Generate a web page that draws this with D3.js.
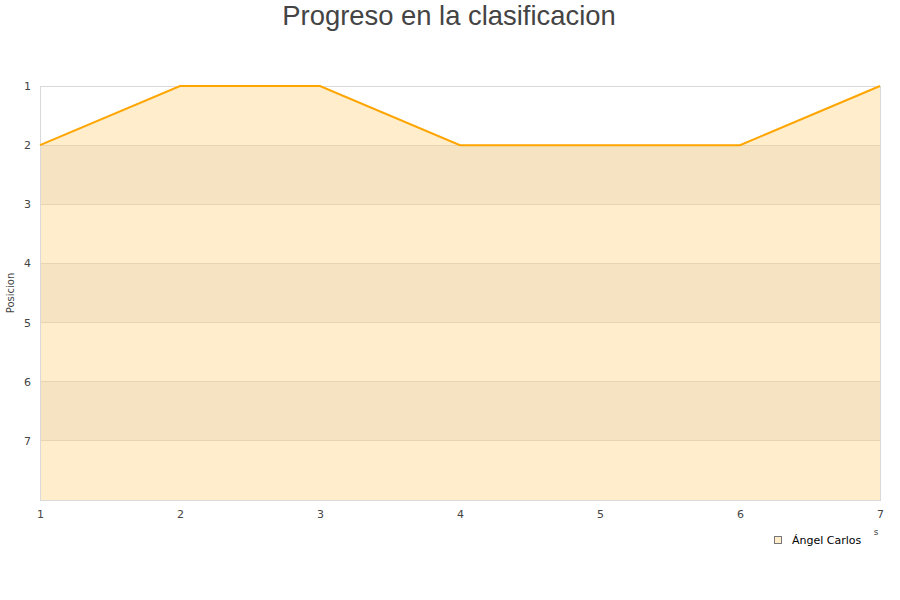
<!DOCTYPE html>
<html><head><meta charset="utf-8">
<script src="https://cdn.jsdelivr.net/npm/d3@7"></script>
<style>body{margin:0;background:#fff}svg{display:block}</style>
</head><body>
<svg id="c" width="900" height="600"></svg>
<script>
const title = "Progreso en la clasificacion";
const seriesName = "Ángel Carlos";
const jornadas = [1, 2, 3, 4, 5, 6, 7];
const posiciones = [2, 1, 1, 2, 2, 2, 1];
const yTicks = [1, 2, 3, 4, 5, 6, 7];
const yDomain = [1, 8];

const svg = d3.select("#c");
const L = 40, R = 880, T = 86, B = 500;
const x = d3.scaleLinear().domain([1, 7]).range([L, R]);
const y = d3.scaleLinear().domain(yDomain).range([T, B]);

// alternating bands
const bands = d3.range(yDomain[0], yDomain[1]);
svg.append("g").selectAll("rect").data(bands).join("rect")
  .attr("x", L).attr("width", R - L)
  .attr("y", d => y(d)).attr("height", d => y(d + 1) - y(d))
  .attr("fill", (d, i) => i % 2 ? "#f3f3f3" : "#ffffff");

// gridlines
svg.append("g").selectAll("line").data(yTicks).join("line")
  .attr("x1", L).attr("x2", R)
  .attr("y1", d => y(d)).attr("y2", d => y(d))
  .attr("stroke", "#e0e0e0").attr("stroke-width", 1)
  .attr("shape-rendering", "crispEdges");

// area
const area = d3.area().x((d, i) => x(jornadas[i])).y0(y(yDomain[1])).y1(d => y(d));
svg.append("path").datum(posiciones).attr("d", area)
  .attr("fill", "#ffa500").attr("fill-opacity", 0.2);

// border
svg.append("rect").attr("x", L).attr("y", T).attr("width", R - L).attr("height", B - T)
  .attr("fill", "none").attr("stroke", "#d9d9d9").attr("stroke-width", 1)
  .attr("shape-rendering", "crispEdges");

// line
const line = d3.line().x((d, i) => x(jornadas[i])).y(d => y(d));
svg.append("path").datum(posiciones).attr("d", line)
  .attr("fill", "none").attr("stroke", "#ffa500").attr("stroke-width", 2);

// axes
const yAxis = d3.axisLeft(y).tickValues(yTicks).tickSize(0).tickPadding(9).tickFormat(d3.format("d"));
const gy = svg.append("g").attr("transform", `translate(${L},0)`).call(yAxis);
gy.select(".domain").remove();
gy.selectAll("text").attr("font-family", "DejaVu Sans, sans-serif").attr("font-size", 11).attr("fill", "#444");

const xAxis = d3.axisBottom(x).tickValues(jornadas).tickSize(0).tickPadding(10).tickFormat(d3.format("d"));
const gx = svg.append("g").attr("transform", `translate(0,${B})`).call(xAxis);
gx.select(".domain").remove();
gx.selectAll("text").attr("font-family", "DejaVu Sans, sans-serif").attr("font-size", 11).attr("fill", "#444");

// title
svg.append("text").attr("x", 449).attr("y", 25).attr("text-anchor", "middle")
  .attr("font-family", "Liberation Sans, Arial, sans-serif").attr("font-size", 27.4).attr("fill", "#444")
  .text(title);

// y title
svg.append("text").attr("transform", `translate(14,${(T + B) / 2}) rotate(-90)`)
  .attr("text-anchor", "middle")
  .attr("font-family", "DejaVu Sans, sans-serif").attr("font-size", 10).attr("fill", "#444")
  .text("Posicion");

// x title remnant
svg.append("text").attr("x", 876).attr("y", 535).attr("text-anchor", "middle")
  .attr("font-family", "DejaVu Sans, sans-serif").attr("font-size", 9).attr("fill", "#444")
  .text("s");

// legend
const lg = svg.append("g").attr("transform", "translate(774,536)");
lg.append("rect").attr("x", 0.5).attr("y", 0.5).attr("width", 7).attr("height", 7)
  .attr("fill", "#ffedcc").attr("stroke", "#777").attr("stroke-width", 1);
lg.append("text").attr("x", 18).attr("y", 8)
  .attr("font-family", "DejaVu Sans, sans-serif").attr("font-size", 11).attr("fill", "#000")
  .text(seriesName);
</script>
</body></html>
